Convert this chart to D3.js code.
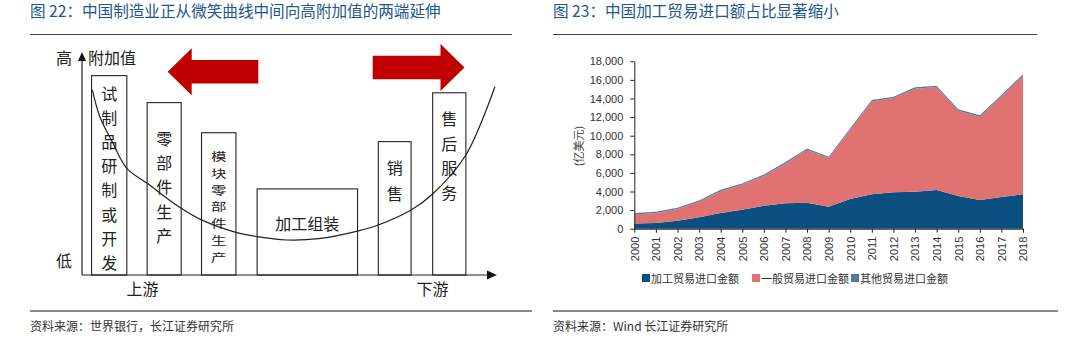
<!DOCTYPE html>
<html>
<head>
<meta charset="utf-8">
<script src="https://cdn.jsdelivr.net/npm/d3@7"></script>
<style>
  html, body { margin: 0; padding: 0; background: #fff; }
  svg { display: block; }
  .cjk { font-family: "Noto Sans CJK SC", "Noto Sans", sans-serif; }
  .num { font-family: "Liberation Sans", Arial, sans-serif; }
</style>
</head>
<body>
<svg id="page" width="1080" height="340"></svg>
<script>
// ---- Figure 22: smile curve of value added ----
const stages = ["试制品研制或开发", "零部件生产", "模块零部件生产", "加工组装", "销售", "售后服务"];
const stageStart = [2.3, 15.7, 28.8, 42.2, 71.4, 84.5];
const stageEnd = [10.8, 23.9, 37.1, 66.4, 79.3, 92.5];
const stageValue = [89.4, 77.3, 63.8, 38.6, 59.8, 81.7];
const stageVertical = [true, true, true, false, true, true];
// smile curve (position along the chain, value added)
const curveX = [2.5, 4.3, 7.5, 10.8, 15.7, 23.9, 28.8, 37.1, 42.2, 49.3, 57, 66.4, 71.4, 79.3, 84.5, 92.5, 99.5];
const curveY = [83, 71, 59, 47.8, 41.1, 29.9, 24.7, 19.1, 17.2, 15.7, 16.3, 19.7, 22.4, 29.1, 36.3, 53.8, 84.4];

// ---- Figure 23: import value by trade mode (亿美元) ----
const years = ["2000","2001","2002","2003","2004","2005","2006","2007","2008","2009",
               "2010","2011","2012","2013","2014","2015","2016","2017","2018"];
const processingImports = [570, 610, 860, 1220, 1690, 2040, 2470, 2730, 2800, 2370,
                           3190, 3700, 3910, 3980, 4160, 3520, 3090, 3410, 3700];
const generalImports = [970, 1070, 1250, 1670, 2350, 2680, 3220, 4290, 5680, 5220,
                        7460, 9990, 10140, 11070, 11070, 9170, 8950, 10820, 12750];
const otherImports = [150, 150, 150, 150, 150, 150, 150, 150, 150, 150,
                      150, 150, 150, 150, 150, 150, 150, 150, 150];
const seriesNames = ["加工贸易进口金额", "一般贸易进口金额", "其他贸易进口金额"];
const seriesColors = ["#0b4f80", "#e07272", "#4f7aa0"];
const yTicks = [0, 2000, 4000, 6000, 8000, 10000, 12000, 14000, 16000, 18000];

const svg = d3.select("#page");
svg.append("rect").attr("width", 1080).attr("height", 340).attr("fill", "#fff");

// ---- headers and footers ----
const titleColor = "#21568e";
[
  {x: 30, text: "图 22：中国制造业正从微笑曲线中间向高附加值的两端延伸", lx2: 512, src: "资料来源：世界银行，长江证券研究所", bx2: 532},
  {x: 553, text: "图 23：中国加工贸易进口额占比显著缩小", lx2: 1037, src: "资料来源：Wind 长江证券研究所", bx2: 1058}
].forEach(h => {
  svg.append("text").attr("class", "cjk").attr("x", h.x).attr("y", 17)
    .attr("font-size", 15.6).attr("fill", titleColor).text(h.text);
  svg.append("line").attr("x1", h.x).attr("x2", h.lx2).attr("y1", 34.5).attr("y2", 34.5)
    .attr("stroke", "#444").attr("stroke-width", 1.2);
  svg.append("line").attr("x1", h.x).attr("x2", h.bx2).attr("y1", 311).attr("y2", 311)
    .attr("stroke", "#8a8a8a").attr("stroke-width", 2);
  svg.append("text").attr("class", "cjk").attr("x", h.x).attr("y", 331)
    .attr("font-size", 12).attr("fill", "#333").text(h.src);
});

// ---- Figure 22 ----
const dx = d3.scaleLinear().domain([0, 100]).range([82, 497]);
const dy = d3.scaleLinear().domain([0, 100]).range([275, 52]);
const g1 = svg.append("g");

// red arrows showing the move toward both ends
function blockArrow(x0, x1, headLen, shaftHalf, headHalf, cy) {
  const dir = Math.sign(x1 - x0);
  const hb = x1 - dir * headLen;
  return `M${x0},${cy - shaftHalf}L${hb},${cy - shaftHalf}L${hb},${cy - headHalf}L${x1},${cy}` +
         `L${hb},${cy + headHalf}L${hb},${cy + shaftHalf}L${x0},${cy + shaftHalf}Z`;
}
g1.append("path").attr("d", blockArrow(258.3, 167.7, 24, 11.7, 23.5, 71.7)).attr("fill", "#c00000");
g1.append("path").attr("d", blockArrow(372.7, 464.5, 24, 11.7, 23.5, 67.5)).attr("fill", "#c00000");

// stage boxes
const boxes = stages.map((s, i) => ({s, x0: stageStart[i], x1: stageEnd[i], v: stageValue[i], vert: stageVertical[i]}));
g1.selectAll("rect.stage").data(boxes).join("rect").attr("class", "stage")
  .attr("x", d => dx(d.x0)).attr("y", d => dy(d.v))
  .attr("width", d => dx(d.x1) - dx(d.x0)).attr("height", d => dy(0) - dy(d.v))
  .attr("fill", "#fff").attr("stroke", "#222").attr("stroke-width", 1.1);

// stage labels, stacked one character per line
const labelLayout = [
  {top: 93, step: 24.1, size: 16, sy: 1},
  {top: 138, step: 24.2, size: 16, sy: 1},
  {top: 156, step: 16.8, size: 15.5, sy: 0.74},
  null,
  {top: 166.7, step: 26.6, size: 16, sy: 1},
  {top: 118, step: 24.6, size: 16, sy: 1}
];
boxes.forEach((d, i) => {
  const cx = (dx(d.x0) + dx(d.x1)) / 2;
  if (d.vert) {
    const L = labelLayout[i];
    Array.from(d.s).forEach((ch, k) => {
      g1.append("text").attr("class", "cjk")
        .attr("transform", `translate(${cx},${L.top + k * L.step}) scale(1,${L.sy})`)
        .attr("text-anchor", "middle").attr("dominant-baseline", "central")
        .attr("font-size", L.size).attr("fill", "#222").text(ch);
    });
  } else {
    g1.append("text").attr("class", "cjk").attr("x", cx).attr("y", 222.7)
      .attr("text-anchor", "middle").attr("dominant-baseline", "central")
      .attr("font-size", 16).attr("fill", "#222").text(d.s);
  }
});

// smile curve
const curvePts = curveX.map((x, i) => [x, curveY[i]]);
g1.append("path").datum(curvePts)
  .attr("d", d3.line().x(d => dx(d[0])).y(d => dy(d[1])).curve(d3.curveCatmullRom.alpha(0.5)))
  .attr("fill", "none").attr("stroke", "#222").attr("stroke-width", 1.2);

// axes with arrow heads
g1.append("line").attr("x1", dx(0)).attr("x2", dx(0)).attr("y1", dy(0)).attr("y2", dy(97))
  .attr("stroke", "#222").attr("stroke-width", 1.2);
g1.append("path").attr("d", `M${dx(0)},${dy(100)}L${dx(0) - 4},${dy(100) + 9}L${dx(0) + 4},${dy(100) + 9}Z`).attr("fill", "#111");
g1.append("line").attr("x1", dx(0)).attr("x2", dx(100) - 8).attr("y1", dy(0)).attr("y2", dy(0))
  .attr("stroke", "#222").attr("stroke-width", 1.2);
g1.append("path").attr("d", `M${dx(100)},${dy(0)}L${dx(100) - 10},${dy(0) - 4.5}L${dx(100) - 10},${dy(0) + 4.5}Z`).attr("fill", "#111");

const axisText = [
  {t: "高", x: 64, y: 57, a: "middle"},
  {t: "附加值", x: 88, y: 57, a: "start"},
  {t: "低", x: 64, y: 260, a: "middle"},
  {t: "上游", x: 142.5, y: 288, a: "middle"},
  {t: "下游", x: 432.5, y: 288, a: "middle"}
];
g1.selectAll("text.ax").data(axisText).join("text").attr("class", "cjk ax")
  .attr("x", d => d.x).attr("y", d => d.y).attr("text-anchor", d => d.a)
  .attr("dominant-baseline", "central").attr("font-size", 16).attr("fill", "#222").text(d => d.t);

// ---- Figure 23 ----
const x = d3.scalePoint().domain(years).range([634.3, 1023]);
const y = d3.scaleLinear().domain([0, 18000]).range([228.7, 61.3]);
const rows = years.map((yr, i) => ({year: yr, p: processingImports[i], g: generalImports[i], o: otherImports[i]}));
const stacked = d3.stack().keys(["p", "g", "o"])(rows);
const area = d3.area().x(d => x(d.data.year)).y0(d => y(d[0])).y1(d => y(d[1]));
const g2 = svg.append("g");
g2.selectAll("path.layer").data(stacked).join("path").attr("class", "layer")
  .attr("d", area).attr("fill", (d, i) => seriesColors[i]);

const yAxis = g2.append("g").attr("transform", `translate(${x.range()[0]},0)`)
  .call(d3.axisLeft(y).tickValues(yTicks).tickFormat(d3.format(",")).tickSize(4).tickSizeOuter(0));
const xAxis = g2.append("g").attr("transform", `translate(0,${y(0)})`)
  .call(d3.axisBottom(x).tickSize(4).tickSizeOuter(0));
[yAxis, xAxis].forEach(a => {
  a.select(".domain").attr("stroke", "#222");
  a.selectAll(".tick line").attr("stroke", "#222");
  a.selectAll("text").attr("class", "num").attr("font-size", 11).attr("fill", "#333");
});
yAxis.selectAll("text").attr("x", -11);
xAxis.selectAll("text")
  .attr("transform", "rotate(-90)").attr("text-anchor", "end")
  .attr("x", -8).attr("y", 0).attr("dy", "0.35em");

g2.append("text").attr("class", "cjk")
  .attr("transform", `translate(578,146) rotate(-90)`)
  .attr("text-anchor", "middle").attr("dominant-baseline", "central")
  .attr("font-size", 11).attr("fill", "#444").text("(亿美元)");

// legend
const legendX = [642, 752, 851];
const leg = g2.selectAll("g.leg").data(seriesNames).join("g").attr("class", "leg")
  .attr("transform", (d, i) => `translate(${legendX[i]},278)`);
leg.append("rect").attr("x", 0).attr("y", -4).attr("width", 8).attr("height", 8)
  .attr("fill", (d, i) => seriesColors[i]);
leg.append("text").attr("class", "cjk").attr("x", 9).attr("y", 0)
  .attr("dominant-baseline", "central").attr("font-size", 11).attr("fill", "#333").text(d => d);
</script>
</body>
</html>
